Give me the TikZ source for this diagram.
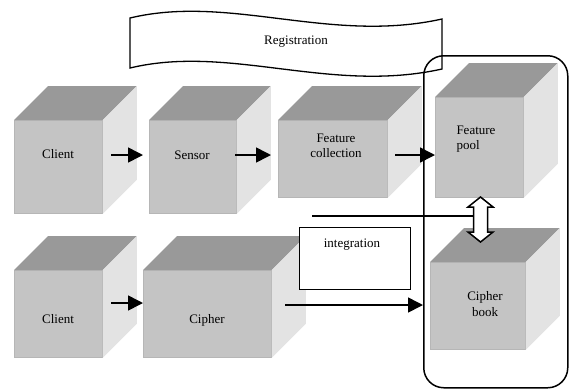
\documentclass[tikz,border=0pt]{standalone}
\usepackage{fontspec}
\setmainfont{Liberation Serif}
\usetikzlibrary{arrows.meta}
\definecolor{cubetop}{HTML}{999999}
\definecolor{cubefront}{HTML}{C4C4C4}
\definecolor{cubeside}{HTML}{E3E3E3}
\definecolor{cubeedge}{HTML}{B6B6B6}
\newcommand\cubefaces[1]{%
  \fill[cubetop] (#1.north west) -- ([shift={(34,-34)}]#1.north west) -- ([shift={(34,-34)}]#1.north east) -- (#1.north east) -- cycle;
  \fill[cubeside] (#1.north east) -- ([shift={(34,-34)}]#1.north east) -- ([shift={(34,-34)}]#1.south east) -- (#1.south east) -- cycle;}
\begin{document}
\begin{tikzpicture}[x=1pt,y=-1pt,
  front/.style={fill=cubefront, draw=cubeedge, line width=0.8pt, inner sep=0pt, anchor=north west},
  lbl/.style={font=\fontsize{13}{15.5}\selectfont, align=center, inner sep=0pt},
  arr/.style={line width=1.6pt, -{Triangle[length=15pt,width=15pt]}},
  thinline/.style={line width=1.3pt}]
\useasboundingbox (0,0) rectangle (569,389);
% cubes
\node[front, minimum width=88pt, minimum height=93pt] (cl1) at (14,120) {};
\node[front, minimum width=87pt, minimum height=93pt] (sens) at (149,120) {};
\node[front, minimum width=109pt, minimum height=77pt] (fcol) at (278,120) {};
\node[front, minimum width=88pt, minimum height=100pt] (fpool) at (435,97) {};
\node[front, minimum width=88pt, minimum height=87pt] (cl2) at (14,270) {};
\node[front, minimum width=128pt, minimum height=87pt] (ciph) at (143,270) {};
\node[front, minimum width=95pt, minimum height=87pt] (cbook) at (430,262) {};
\cubefaces{cl1}\cubefaces{sens}\cubefaces{fcol}\cubefaces{fpool}
\cubefaces{cl2}\cubefaces{ciph}\cubefaces{cbook}
% labels
\node[lbl] (t1) at (58,154) {Client};
\node[lbl] (t2) at (192,155) {Sensor};
\node[lbl] (t3) at (336,146) {Feature\\collection};
\node[lbl, align=left] (t4) at (476,139) {Feature\\pool};
\node[lbl] (t5) at (58,319) {Client};
\node[lbl] (t6) at (207,320) {Cipher};
\node[lbl] (t7) at (485,304) {Cipher\\book};
% banner
\draw[thinline] (130,18) .. controls (230,-6) and (330,44) .. (442,19) -- (442,69)
  .. controls (330,94) and (230,44) .. (130,68) -- cycle;
\node[lbl] (reg) at (296,42) {Registration};
% group
\node[draw, rounded corners=20pt, line width=1.5pt, minimum width=144pt, minimum height=332pt, anchor=north west, inner sep=0pt] (grp) at (423,55) {};
% integration
\node[draw, fill=white, line width=1.4pt, minimum width=111pt, minimum height=62pt, anchor=north west, inner sep=0pt] (integ) at (299,227) {};
\node[lbl] (t9) at (352,245) {integration};
% arrows
\coordinate (a1) at (111,155);
\draw[arr, shorten >=6pt] (a1) -- (sens.west |- a1);
\coordinate (a2) at (235,155);
\draw[arr, shorten >=7pt] (a2) -- (fcol.west |- a2);
\coordinate (a3) at (395,155);
\draw[arr] (a3) -- (fpool.west |- a3);
\coordinate (a4) at (111,303);
\draw[arr] (a4) -- (ciph.west |- a4);
\coordinate (a5) at (285,305);
\draw[arr] (a5) -- (grp.west |- a5);
% double arrow
\draw[line width=1.5pt, fill=white, line join=miter]
  (480.5,197) -- (493,207) -- (487.5,207) -- (487.5,232) -- (493,232) -- (480.5,242)
  -- (468,232) -- (473.5,232) -- (473.5,207) -- (468,207) -- cycle;
\coordinate (dal) at (473.5,216);
\coordinate (h1) at (312,216);
\draw[thinline] (h1) -- (dal);
\end{tikzpicture}
\end{document}
